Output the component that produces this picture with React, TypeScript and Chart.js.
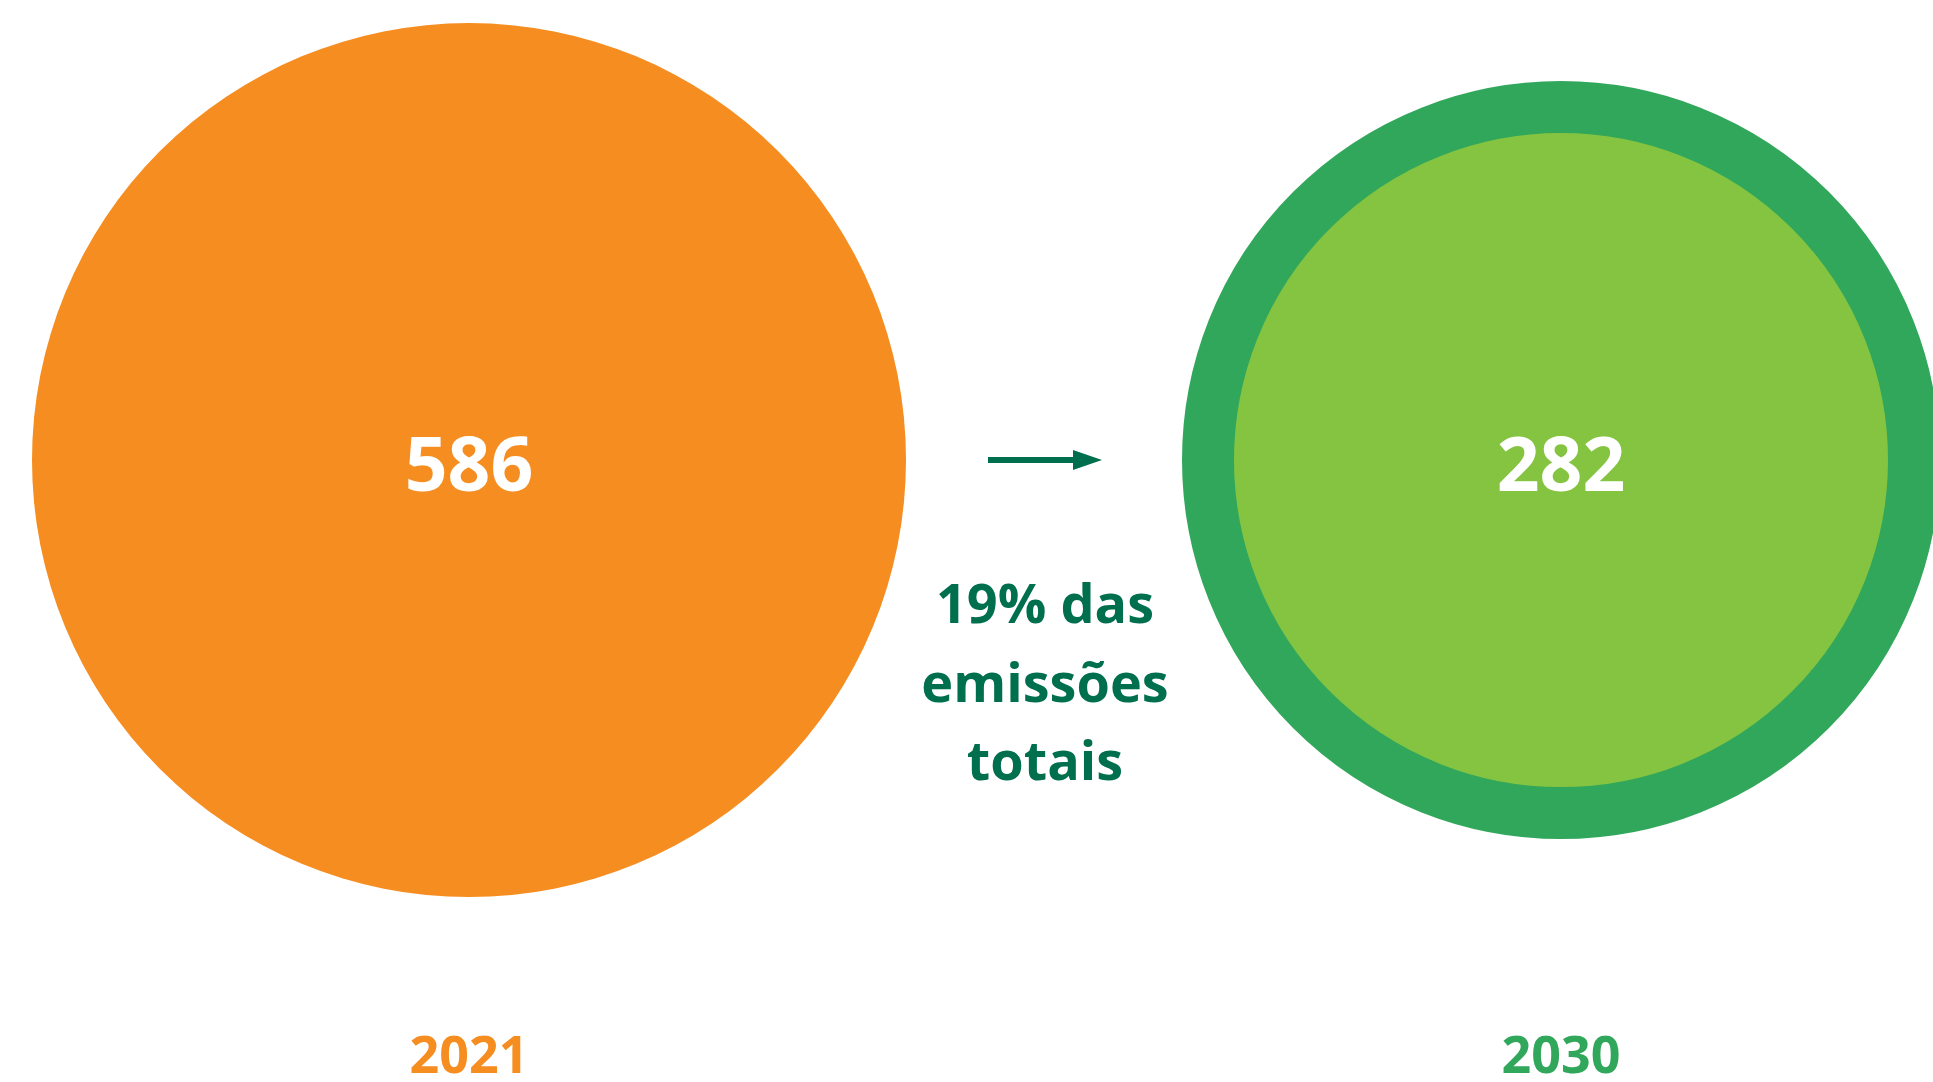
import React, { useEffect, useRef } from "react";
import { Chart, registerables } from "chart.js";

Chart.register(...registerables);

const years = ["2021", "2030"];
const emissions = [586, 282];
const noteLines = ["19% das", "emissões", "totais"];

const ORANGE = "#F68D21";
const DARK_GREEN = "#31A75B";
const LIGHT_GREEN = "#84C441";
const TEXT_GREEN = "#006F4D";
const FONT = "'Open Sans', 'DejaVu Sans', sans-serif";

const labelsPlugin = {
  id: "bubbleLabels",
  afterDatasetsDraw(chart: any) {
    const ctx = chart.ctx;
    const meta = chart.getDatasetMeta(0);
    const p0 = meta.data[0];
    const p1 = meta.data[1];
    ctx.save();
    // values inside the circles
    ctx.fillStyle = "#FFFFFF";
    ctx.font = `bold 75px ${FONT}`;
    ctx.textAlign = "center";
    ctx.textBaseline = "alphabetic";
    meta.data.forEach((el: any, i: number) => {
      ctx.fillText(String(emissions[i]), el.x, el.y + 31);
    });
    // arrow
    const cx = (p0.x + p1.x) / 2 + 30;
    const ay = p0.y;
    ctx.strokeStyle = TEXT_GREEN;
    ctx.fillStyle = TEXT_GREEN;
    ctx.lineWidth = 6;
    ctx.beginPath();
    ctx.moveTo(cx - 57, ay);
    ctx.lineTo(cx + 30, ay);
    ctx.stroke();
    ctx.beginPath();
    ctx.moveTo(cx + 28, ay - 10);
    ctx.lineTo(cx + 57, ay);
    ctx.lineTo(cx + 28, ay + 10);
    ctx.closePath();
    ctx.fill();
    // note text
    ctx.font = `bold 54px ${FONT}`;
    const offsets = [163, 242, 320];
    noteLines.forEach((t, i) => {
      ctx.fillText(t, cx, ay + offsets[i]);
    });
    ctx.restore();
  },
};

export default function App() {
  const ref = useRef<HTMLCanvasElement | null>(null);
  useEffect(() => {
    if (!ref.current) return;
    const chart = new Chart(ref.current, {
      type: "bubble",
      data: {
        labels: years,
        datasets: [
          {
            data: years.map((y) => ({ x: y as any, y: 0 })),
            backgroundColor: (c: any) => (c.dataIndex === 0 ? ORANGE : LIGHT_GREEN),
            borderColor: (c: any) => (c.dataIndex === 0 ? ORANGE : DARK_GREEN),
            borderWidth: (c: any) => (c.dataIndex === 0 ? 0 : 52),
            radius: (c: any) => (c.dataIndex === 0 ? 437 : 353),
            hoverRadius: 0,
            clip: false as any,
          } as any,
        ],
      },
      options: {
        responsive: false,
        animation: false,
        devicePixelRatio: 1,
        layout: { autoPadding: false, padding: { left: 469, right: 372, top: 0, bottom: 0 } },
        plugins: {
          legend: { display: false },
          tooltip: { enabled: false },
        },
        events: [],
        scales: {
          x: {
            type: "category",
            offset: false,
            grid: { display: false, drawTicks: false },
            border: { display: false },
            ticks: {
              padding: 0,
              autoSkip: false,
              maxRotation: 0,
              color: (c: any) => (c.index === 0 ? ORANGE : DARK_GREEN),
              font: { family: FONT, size: 52, weight: "bold", lineHeight: 0.9 },
            },
          },
          y: {
            display: false,
            min: -1.25,
            max: 1,
          },
        },
      } as any,
      plugins: [labelsPlugin],
    });
    return () => chart.destroy();
  }, []);
  return (
    <div style={{ position: "absolute", left: 0, top: 0, width: 1933, height: 1082, overflow: "hidden" }}>
      <canvas ref={ref} width={1933} height={1082} style={{ display: "block" }} />
    </div>
  );
}
